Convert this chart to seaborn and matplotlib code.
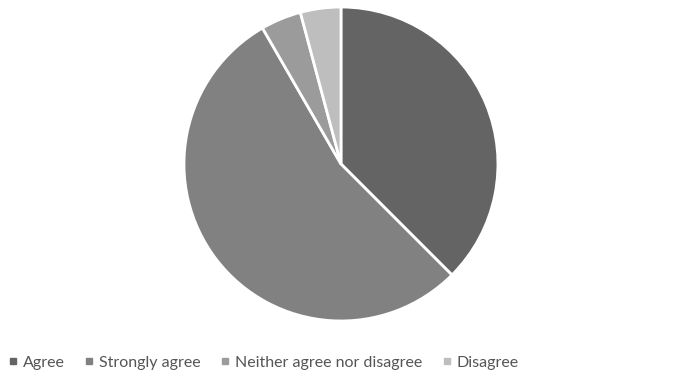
import matplotlib
matplotlib.use("Agg")
import matplotlib.pyplot as plt
import seaborn as sns
from matplotlib.lines import Line2D

labels = ["Agree", "Strongly agree", "Neither agree nor disagree", "Disagree"]
counts = [9, 13, 1, 1]
colors = ["#646464", "#818181", "#9b9b9b", "#bebebe"]

sns.set_theme(style="white")
plt.rcParams["font.family"] = ["Lato", "DejaVu Sans"]

fig = plt.figure(figsize=(6.94, 3.76), dpi=100)
ax = fig.add_axes([0.2651, 0.1463, 0.4524, 0.8351])
ax.pie(counts, colors=colors, startangle=90, counterclock=False,
       wedgeprops=dict(edgecolor="white", linewidth=2))
ax.set_xlim(-1.0, 1.0)
ax.set_ylim(-1.0, 1.0)
ax.set_aspect("equal")

handles = [Line2D([], [], marker="s", linestyle="", markersize=5,
                  markerfacecolor=c, markeredgecolor=c) for c in colors]
fig.legend(handles, labels, ncol=4, loc="lower left",
           bbox_to_anchor=(0.004, 0.0), frameon=False, fontsize=11.5,
           handlelength=0.5, handletextpad=0.35, columnspacing=1.3,
           borderaxespad=0.0, labelcolor="#555555")
fig.savefig("out.png", dpi=100, facecolor="white")
